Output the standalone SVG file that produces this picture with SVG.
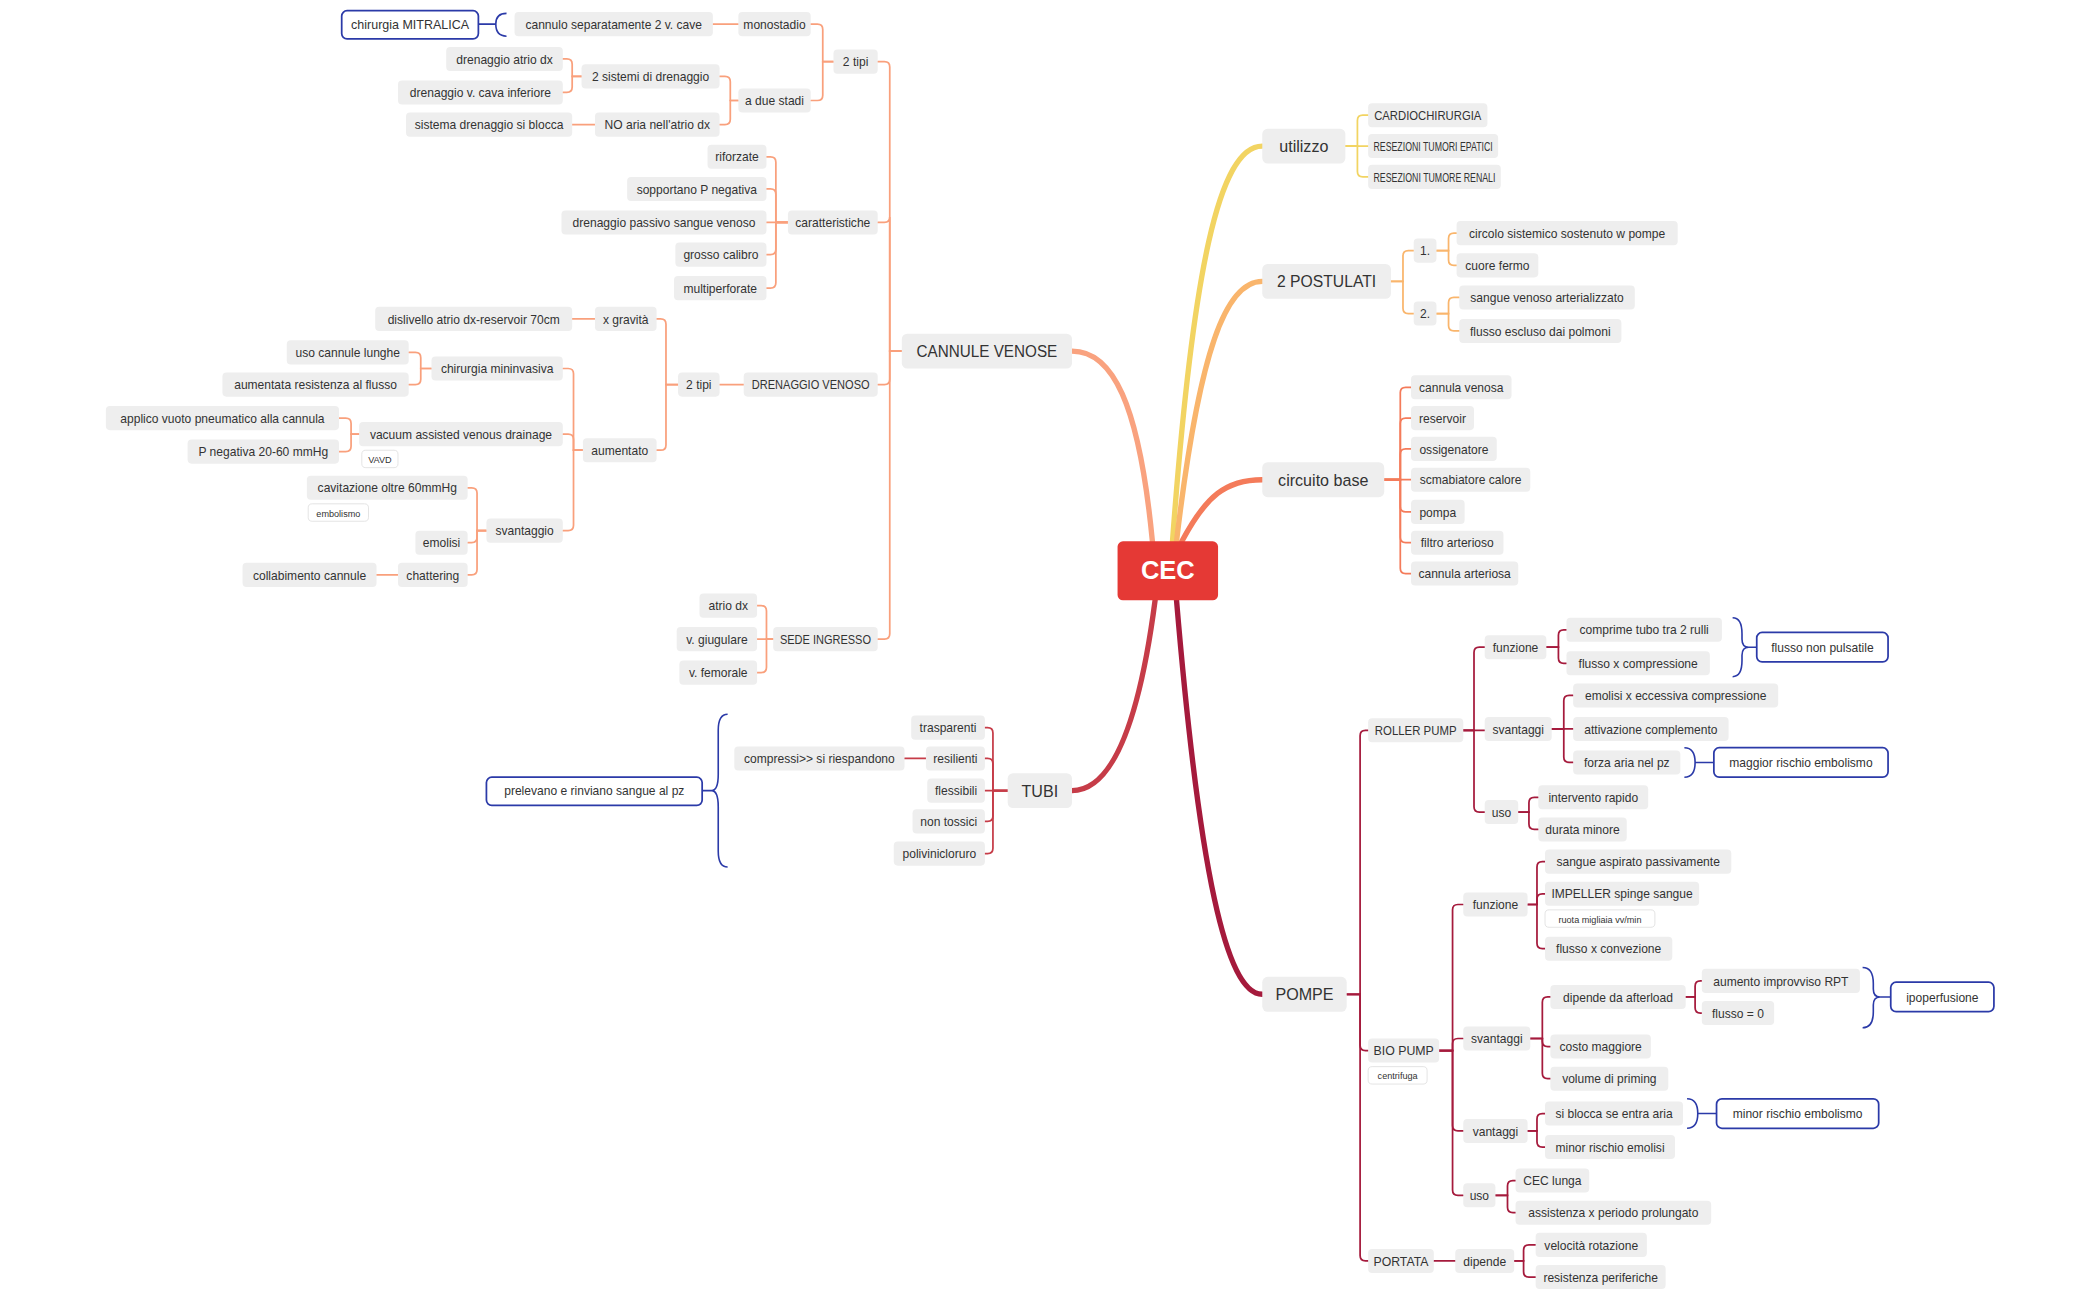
<svg xmlns="http://www.w3.org/2000/svg" width="2100" height="1301" viewBox="0 0 2100 1301">
<style>
.n rect{fill:#eeeeee}
.n text,.m text,.b text,.s text{font-family:"Liberation Sans",Arial,sans-serif;fill:#333;text-anchor:middle}
.n text{font-size:9px}
.m rect{fill:#eeeeee}
.m text{font-size:12px}
.b rect{fill:#fff;stroke:#2b3aa8;stroke-width:1.3}
.b text{font-size:9px}
.s rect{fill:#fff;stroke:#ddd;stroke-width:0.6}
.s text{font-size:6.8px}
.c path{fill:none;stroke-width:1.3;stroke-linecap:round}
.cv path{stroke:#f9a07c}
.ct path{stroke:#c63c48}
.cu path{stroke:#f2d462}
.cp path{stroke:#f9b56c}
.cc path{stroke:#f47b5a}
.cm path{stroke:#a51a3c}
.br path{fill:none;stroke:#2b3aa8;stroke-width:1.2}
.main path{fill:none;stroke-width:4;stroke-linecap:round}
</style>
<rect width="2100" height="1301" fill="#fff"/>
<g transform="scale(1.34)">
<g id="connectors">
<g class="main">
<path d="M860 404 C850 300 830 262 800 262" stroke="#f9a27f"/>
<path d="M875 404 C890 200 910 109 942 109" stroke="#f2d462"/>
<path d="M878 404 C895 260 915 210 942 210" stroke="#f9b56c"/>
<path d="M882 404 C900 370 915 358 942 358" stroke="#f47b5a"/>
<path d="M862 448 C850 540 830 590 800 590" stroke="#c63c48"/>
<path d="M878 448 C895 650 915 742 942 742" stroke="#a51a3c"/>
</g>
<g class="c cv">
<path d="M673 262 H664 V50 Q664 46 660 46 H655"/>
<path d="M673 262 H664 V162 Q664 166 660 166 H655"/>
<path d="M673 262 H664 V283 Q664 287 660 287 H655"/>
<path d="M673 262 H664 V473 Q664 477 660 477 H655"/>
<path d="M622 46 H614 V22 Q614 18 610 18 H605"/>
<path d="M622 46 H614 V71 Q614 75 610 75 H605"/>
<path d="M551 18 H532"/>
<path d="M551 75 H545 V61 Q545 57 541 57 H537"/>
<path d="M551 75 H545 V89 Q545 93 541 93 H537"/>
<path d="M434 57 H427 V48 Q427 44 423 44 H420"/>
<path d="M434 57 H427 V65 Q427 69 423 69 H420"/>
<path d="M444 93 H427"/>
<path d="M588 166 H579 V121 Q579 117 575 117 H572"/>
<path d="M588 166 H579 V145 Q579 141 575 141 H572"/>
<path d="M588 166 H572"/>
<path d="M588 166 H579 V186 Q579 190 575 190 H572"/>
<path d="M588 166 H579 V211 Q579 215 575 215 H572"/>
<path d="M555 287 H537"/>
<path d="M506 287 H497 V242 Q497 238 493 238 H490"/>
<path d="M506 287 H497 V332 Q497 336 493 336 H490"/>
<path d="M444 238 H427"/>
<path d="M435 336 H428 V279 Q428 275 424 275 H420"/>
<path d="M435 336 H428 V328 Q428 324 424 324 H420"/>
<path d="M435 336 H428 V392 Q428 396 424 396 H420"/>
<path d="M322 275 H314 V267 Q314 263 310 263 H305"/>
<path d="M322 275 H314 V283 Q314 287 310 287 H305"/>
<path d="M268 324 H262 V316 Q262 312 258 312 H253"/>
<path d="M268 324 H262 V333 Q262 337 258 337 H253"/>
<path d="M363 396 H356 V368 Q356 364 352 364 H349"/>
<path d="M363 396 H356 V401 Q356 405 352 405 H349"/>
<path d="M363 396 H356 V425 Q356 429 352 429 H349"/>
<path d="M297 429 H281"/>
<path d="M577 477 H572 V456 Q572 452 568 452 H565"/>
<path d="M577 477 H565"/>
<path d="M577 477 H572 V498 Q572 502 568 502 H565"/>
</g>
<g class="c ct">
<path d="M752 590 H741 V547 Q741 543 737 543 H735"/>
<path d="M752 590 H741 V570 Q741 566 737 566 H735"/>
<path d="M752 590 H735"/>
<path d="M752 590 H741 V609 Q741 613 737 613 H735"/>
<path d="M752 590 H741 V633 Q741 637 737 637 H735"/>
<path d="M691 566 H675"/>
</g>
<g class="c cu">
<path d="M1004 109 H1013 V90 Q1013 86 1017 86 H1021"/>
<path d="M1004 109 H1021"/>
<path d="M1004 109 H1013 V128 Q1013 132 1017 132 H1021"/>
</g>
<g class="c cp">
<path d="M1038 210 H1047 V191 Q1047 187 1051 187 H1055"/>
<path d="M1038 210 H1047 V230 Q1047 234 1051 234 H1055"/>
<path d="M1072 187 H1081 V178 Q1081 174 1085 174 H1087"/>
<path d="M1072 187 H1081 V194 Q1081 198 1085 198 H1087"/>
<path d="M1072 234 H1081 V226 Q1081 222 1085 222 H1089"/>
<path d="M1072 234 H1081 V243 Q1081 247 1085 247 H1089"/>
</g>
<g class="c cc">
<path d="M1033 358 H1045 V293 Q1045 289 1049 289 H1053"/>
<path d="M1033 358 H1045 V316 Q1045 312 1049 312 H1053"/>
<path d="M1033 358 H1045 V339 Q1045 335 1049 335 H1053"/>
<path d="M1033 358 H1053"/>
<path d="M1033 358 H1045 V378 Q1045 382 1049 382 H1053"/>
<path d="M1033 358 H1045 V401 Q1045 405 1049 405 H1053"/>
<path d="M1033 358 H1045 V424 Q1045 428 1049 428 H1053"/>
</g>
<g class="c cm">
<path d="M1005 742 H1015 V549 Q1015 545 1019 545 H1021"/>
<path d="M1005 742 H1015 V780 Q1015 784 1019 784 H1021"/>
<path d="M1005 742 H1015 V937 Q1015 941 1019 941 H1021"/>
<path d="M1092 545 H1100 V487 Q1100 483 1104 483 H1108"/>
<path d="M1092 545 H1108"/>
<path d="M1092 545 H1100 V602 Q1100 606 1104 606 H1108"/>
<path d="M1154 483 H1163 V474 Q1163 470 1167 470 H1169"/>
<path d="M1154 483 H1163 V491 Q1163 495 1167 495 H1169"/>
<path d="M1158 544 H1167 V523 Q1167 519 1171 519 H1174"/>
<path d="M1158 544 H1174"/>
<path d="M1158 544 H1167 V565 Q1167 569 1171 569 H1174"/>
<path d="M1133 606 H1141 V599 Q1141 595 1145 595 H1148"/>
<path d="M1133 606 H1141 V615 Q1141 619 1145 619 H1148"/>
<path d="M1074 784 H1084 V679 Q1084 675 1088 675 H1092"/>
<path d="M1074 784 H1084 V779 Q1084 775 1088 775 H1092"/>
<path d="M1074 784 H1084 V840 Q1084 844 1088 844 H1092"/>
<path d="M1074 784 H1084 V888 Q1084 892 1088 892 H1092"/>
<path d="M1140 675 H1147 V647 Q1147 643 1151 643 H1153"/>
<path d="M1140 675 H1147 V671 Q1147 667 1151 667 H1153"/>
<path d="M1140 675 H1147 V704 Q1147 708 1151 708 H1153"/>
<path d="M1142 775 H1151 V748 Q1151 744 1155 744 H1157"/>
<path d="M1142 775 H1151 V777 Q1151 781 1155 781 H1157"/>
<path d="M1142 775 H1151 V801 Q1151 805 1155 805 H1157"/>
<path d="M1258 744 H1265 V736 Q1265 732 1269 732 H1270"/>
<path d="M1258 744 H1265 V752 Q1265 756 1269 756 H1270"/>
<path d="M1140 844 H1147 V835 Q1147 831 1151 831 H1153"/>
<path d="M1140 844 H1147 V852 Q1147 856 1151 856 H1153"/>
<path d="M1116 892 H1125 V885 Q1125 881 1129 881 H1131"/>
<path d="M1116 892 H1125 V901 Q1125 905 1129 905 H1131"/>
<path d="M1070 941 H1086"/>
<path d="M1130 941 H1137 V933 Q1137 929 1141 929 H1146"/>
<path d="M1130 941 H1137 V949 Q1137 953 1141 953 H1146"/>
</g>
<g class="br">
<path d="M378 10 Q370 10 370 18 Q370 27 378 27 M370 18 H357"/>
<path d="M543 533 Q536 533 536 545 V578 Q536 590 531 590 Q536 590 536 602 V635 Q536 647 543 647 M531 590 H524"/>
<path d="M1293 461 Q1300 461 1300 473 V477 Q1300 483 1305 483 Q1300 483 1300 489 V493 Q1300 505 1293 505 M1305 483 H1311"/>
<path d="M1257 558 Q1265 558 1265 569 Q1265 580 1257 580 M1265 569 H1279"/>
<path d="M1390 722 Q1398 722 1398 734 V738 Q1398 744 1403 744 Q1398 744 1398 750 V755 Q1398 767 1390 767 M1403 744 H1411"/>
<path d="M1259 820 Q1267 820 1267 831 Q1267 842 1259 842 M1267 831 H1281"/>
</g>
</g>

<g id="cec"><rect x="834" y="404" width="75" height="44" rx="4" fill="#e53935"/><text x="871.5" y="432" font-family="Liberation Sans,Arial,sans-serif" font-size="19" font-weight="bold" fill="#fff" text-anchor="middle">CEC</text></g>

<g class="m" id="cannule"><rect x="673" y="249" width="127" height="26" rx="4"/><text x="736.5" y="266.5" textLength="105" lengthAdjust="spacingAndGlyphs">CANNULE VENOSE</text></g>
<g class="m" id="tubi"><rect x="752" y="577" width="48" height="26" rx="4"/><text x="776" y="594.5">TUBI</text></g>
<g class="m" id="utilizzo"><rect x="942" y="96" width="62" height="26" rx="4"/><text x="973" y="113.5">utilizzo</text></g>
<g class="m" id="postulati"><rect x="942" y="197" width="96" height="26" rx="4"/><text x="990" y="214.5" textLength="74" lengthAdjust="spacingAndGlyphs">2 POSTULATI</text></g>
<g class="m" id="circuito"><rect x="942" y="345" width="91" height="26" rx="4"/><text x="987.5" y="362.5">circuito base</text></g>
<g class="m" id="pompe"><rect x="942" y="729" width="63" height="26" rx="4"/><text x="973.5" y="746.5">POMPE</text></g>

<g class="n" id="n1"><rect x="622" y="37" width="33" height="18" rx="3"/><text x="638.5" y="49.5">2 tipi</text></g>
<g class="n" id="n2"><rect x="551" y="9" width="54" height="18" rx="3"/><text x="578" y="21.5">monostadio</text></g>
<g class="n" id="n3"><rect x="551" y="66" width="54" height="18" rx="3"/><text x="578" y="78.5">a due stadi</text></g>
<g class="n" id="n4"><rect x="384" y="9" width="148" height="18" rx="3"/><text x="458" y="21.5">cannulo separatamente 2 v. cave</text></g>
<g class="b" id="n5"><rect x="255" y="8" width="102" height="21" rx="4"/><text x="306" y="21.5" textLength="88" lengthAdjust="spacingAndGlyphs">chirurgia MITRALICA</text></g>
<g class="n" id="n6"><rect x="434" y="48" width="103" height="18" rx="3"/><text x="485.5" y="60.5">2 sistemi di drenaggio</text></g>
<g class="n" id="n7"><rect x="444" y="84" width="93" height="18" rx="3"/><text x="490.5" y="96.5">NO aria nell'atrio dx</text></g>
<g class="n" id="n8"><rect x="333" y="35" width="87" height="18" rx="3"/><text x="376.5" y="47.5">drenaggio atrio dx</text></g>
<g class="n" id="n9"><rect x="297" y="60" width="123" height="18" rx="3"/><text x="358.5" y="72.5">drenaggio v. cava inferiore</text></g>
<g class="n" id="n10"><rect x="303" y="84" width="124" height="18" rx="3"/><text x="365" y="96.5">sistema drenaggio si blocca</text></g>
<g class="n" id="n11"><rect x="588" y="157" width="67" height="18" rx="3"/><text x="621.5" y="169.5">caratteristiche</text></g>
<g class="n" id="n12"><rect x="528" y="108" width="44" height="18" rx="3"/><text x="550" y="120.5">riforzate</text></g>
<g class="n" id="n13"><rect x="468" y="132" width="104" height="18" rx="3"/><text x="520" y="144.5">sopportano P negativa</text></g>
<g class="n" id="n14"><rect x="419" y="157" width="153" height="18" rx="3"/><text x="495.5" y="169.5">drenaggio passivo sangue venoso</text></g>
<g class="n" id="n15"><rect x="504" y="181" width="68" height="18" rx="3"/><text x="538" y="193.5">grosso calibro</text></g>
<g class="n" id="n16"><rect x="503" y="206" width="69" height="18" rx="3"/><text x="537.5" y="218.5">multiperforate</text></g>
<g class="n" id="n17"><rect x="555" y="278" width="100" height="18" rx="3"/><text x="605" y="290.5" textLength="88" lengthAdjust="spacingAndGlyphs">DRENAGGIO VENOSO</text></g>
<g class="n" id="n18"><rect x="506" y="278" width="31" height="18" rx="3"/><text x="521.5" y="290.5">2 tipi</text></g>
<g class="n" id="n19"><rect x="444" y="229" width="46" height="18" rx="3"/><text x="467" y="241.5">x gravità</text></g>
<g class="n" id="n20"><rect x="280" y="229" width="147" height="18" rx="3"/><text x="353.5" y="241.5">dislivello atrio dx-reservoir 70cm</text></g>
<g class="n" id="n21"><rect x="435" y="327" width="55" height="18" rx="3"/><text x="462.5" y="339.5">aumentato</text></g>
<g class="n" id="n22"><rect x="322" y="266" width="98" height="18" rx="3"/><text x="371" y="278.5">chirurgia mininvasiva</text></g>
<g class="n" id="n23"><rect x="214" y="254" width="91" height="18" rx="3"/><text x="259.5" y="266.5">uso cannule lunghe</text></g>
<g class="n" id="n24"><rect x="166" y="278" width="139" height="18" rx="3"/><text x="235.5" y="290.5">aumentata resistenza al flusso</text></g>
<g class="n" id="n25"><rect x="268" y="315" width="152" height="18" rx="3"/><text x="344" y="327.5">vacuum assisted venous drainage</text></g>
<g class="s" id="n25s"><rect x="270" y="336" width="27" height="13" rx="3"/><text x="283.5" y="345.5">VAVD</text></g>
<g class="n" id="n26"><rect x="79" y="303" width="174" height="18" rx="3"/><text x="166" y="315.5">applico vuoto pneumatico alla cannula</text></g>
<g class="n" id="n27"><rect x="140" y="328" width="113" height="18" rx="3"/><text x="196.5" y="340.5">P negativa 20-60 mmHg</text></g>
<g class="n" id="n28"><rect x="363" y="387" width="57" height="18" rx="3"/><text x="391.5" y="399.5">svantaggio</text></g>
<g class="n" id="n29"><rect x="229" y="355" width="120" height="18" rx="3"/><text x="289" y="367.5">cavitazione oltre 60mmHg</text></g>
<g class="s" id="n29s"><rect x="230" y="376" width="45" height="13" rx="3"/><text x="252.5" y="385.5">embolismo</text></g>
<g class="n" id="n30"><rect x="310" y="396" width="39" height="18" rx="3"/><text x="329.5" y="408.5">emolisi</text></g>
<g class="n" id="n31"><rect x="297" y="420" width="52" height="18" rx="3"/><text x="323" y="432.5">chattering</text></g>
<g class="n" id="n32"><rect x="181" y="420" width="100" height="18" rx="3"/><text x="231" y="432.5">collabimento cannule</text></g>
<g class="n" id="n33"><rect x="577" y="468" width="78" height="18" rx="3"/><text x="616" y="480.5" textLength="68" lengthAdjust="spacingAndGlyphs">SEDE INGRESSO</text></g>
<g class="n" id="n34"><rect x="522" y="443" width="43" height="18" rx="3"/><text x="543.5" y="455.5">atrio dx</text></g>
<g class="n" id="n35"><rect x="505" y="468" width="60" height="18" rx="3"/><text x="535" y="480.5">v. giugulare</text></g>
<g class="n" id="n36"><rect x="507" y="493" width="58" height="18" rx="3"/><text x="536" y="505.5">v. femorale</text></g>

<g class="n" id="t1"><rect x="680" y="534" width="55" height="18" rx="3"/><text x="707.5" y="546.5">trasparenti</text></g>
<g class="n" id="t2"><rect x="691" y="557" width="44" height="18" rx="3"/><text x="713" y="569.5">resilienti</text></g>
<g class="n" id="t3"><rect x="692" y="581" width="43" height="18" rx="3"/><text x="713.5" y="593.5">flessibili</text></g>
<g class="n" id="t4"><rect x="681" y="604" width="54" height="18" rx="3"/><text x="708" y="616.5">non tossici</text></g>
<g class="n" id="t5"><rect x="667" y="628" width="68" height="18" rx="3"/><text x="701" y="640.5">polivinicloruro</text></g>
<g class="n" id="t6"><rect x="548" y="557" width="127" height="18" rx="3"/><text x="611.5" y="569.5">compressi&gt;&gt; si riespandono</text></g>
<g class="b" id="t7"><rect x="363" y="580" width="161" height="21" rx="4" stroke-width="2"/><text x="443.5" y="593.5">prelevano e rinviano sangue al pz</text></g>

<g class="n" id="u1"><rect x="1021" y="77" width="89" height="18" rx="3"/><text x="1065.5" y="89.5" textLength="80" lengthAdjust="spacingAndGlyphs">CARDIOCHIRURGIA</text></g>
<g class="n" id="u2"><rect x="1021" y="100" width="97" height="18" rx="3"/><text x="1069.5" y="112.5" textLength="89" lengthAdjust="spacingAndGlyphs">RESEZIONI TUMORI EPATICI</text></g>
<g class="n" id="u3"><rect x="1021" y="123" width="99" height="18" rx="3"/><text x="1070.5" y="135.5" textLength="91" lengthAdjust="spacingAndGlyphs">RESEZIONI TUMORE RENALI</text></g>

<g class="n" id="p1"><rect x="1055" y="178" width="17" height="18" rx="3"/><text x="1063.5" y="190.5">1.</text></g>
<g class="n" id="p2"><rect x="1055" y="225" width="17" height="18" rx="3"/><text x="1063.5" y="237.5">2.</text></g>
<g class="n" id="p3"><rect x="1087" y="165" width="165" height="18" rx="3"/><text x="1169.5" y="177.5">circolo sistemico sostenuto w pompe</text></g>
<g class="n" id="p4"><rect x="1087" y="189" width="61" height="18" rx="3"/><text x="1117.5" y="201.5">cuore fermo</text></g>
<g class="n" id="p5"><rect x="1089" y="213" width="131" height="18" rx="3"/><text x="1154.5" y="225.5">sangue venoso arterializzato</text></g>
<g class="n" id="p6"><rect x="1089" y="238" width="121" height="18" rx="3"/><text x="1149.5" y="250.5">flusso escluso dai polmoni</text></g>

<g class="n" id="c1"><rect x="1053" y="280" width="75" height="18" rx="3"/><text x="1090.5" y="292.5">cannula venosa</text></g>
<g class="n" id="c2"><rect x="1053" y="303" width="47" height="18" rx="3"/><text x="1076.5" y="315.5">reservoir</text></g>
<g class="n" id="c3"><rect x="1053" y="326" width="64" height="18" rx="3"/><text x="1085" y="338.5">ossigenatore</text></g>
<g class="n" id="c4"><rect x="1053" y="349" width="89" height="18" rx="3"/><text x="1097.5" y="361.5">scmabiatore calore</text></g>
<g class="n" id="c5"><rect x="1053" y="373" width="40" height="18" rx="3"/><text x="1073" y="385.5">pompa</text></g>
<g class="n" id="c6"><rect x="1053" y="396" width="69" height="18" rx="3"/><text x="1087.5" y="408.5">filtro arterioso</text></g>
<g class="n" id="c7"><rect x="1053" y="419" width="80" height="18" rx="3"/><text x="1093" y="431.5">cannula arteriosa</text></g>

<g class="n" id="r0"><rect x="1021" y="536" width="71" height="18" rx="3"/><text x="1056.5" y="548.5" textLength="61" lengthAdjust="spacingAndGlyphs">ROLLER PUMP</text></g>
<g class="n" id="r1"><rect x="1108" y="474" width="46" height="18" rx="3"/><text x="1131" y="486.5">funzione</text></g>
<g class="n" id="r2"><rect x="1108" y="535" width="50" height="18" rx="3"/><text x="1133" y="547.5">svantaggi</text></g>
<g class="n" id="r3"><rect x="1108" y="597" width="25" height="18" rx="3"/><text x="1120.5" y="609.5">uso</text></g>
<g class="n" id="r4"><rect x="1169" y="461" width="116" height="18" rx="3"/><text x="1227" y="473.5">comprime tubo tra 2 rulli</text></g>
<g class="n" id="r5"><rect x="1169" y="486" width="107" height="18" rx="3"/><text x="1222.5" y="498.5">flusso x compressione</text></g>
<g class="b" id="r6"><rect x="1311" y="472" width="98" height="22" rx="4"/><text x="1360" y="486.5">flusso non pulsatile</text></g>
<g class="n" id="r7"><rect x="1174" y="510" width="153" height="18" rx="3"/><text x="1250.5" y="522.5">emolisi x eccessiva compressione</text></g>
<g class="n" id="r8"><rect x="1174" y="535" width="116" height="18" rx="3"/><text x="1232" y="547.5">attivazione complemento</text></g>
<g class="n" id="r9"><rect x="1174" y="560" width="80" height="18" rx="3"/><text x="1214" y="572.5">forza aria nel pz</text></g>
<g class="b" id="r10"><rect x="1279" y="558" width="130" height="22" rx="4"/><text x="1344" y="572.5">maggior rischio embolismo</text></g>
<g class="n" id="r11"><rect x="1148" y="586" width="82" height="18" rx="3"/><text x="1189" y="598.5">intervento rapido</text></g>
<g class="n" id="r12"><rect x="1148" y="610" width="66" height="18" rx="3"/><text x="1181" y="622.5">durata minore</text></g>

<g class="n" id="b0"><rect x="1021" y="775" width="53" height="18" rx="3"/><text x="1047.5" y="787.5" textLength="45" lengthAdjust="spacingAndGlyphs">BIO PUMP</text></g>
<g class="s" id="b0s"><rect x="1021" y="796" width="44" height="13" rx="3"/><text x="1043" y="805.5">centrifuga</text></g>
<g class="n" id="b1"><rect x="1092" y="666" width="48" height="18" rx="3"/><text x="1116" y="678.5">funzione</text></g>
<g class="n" id="b2"><rect x="1092" y="766" width="50" height="18" rx="3"/><text x="1117" y="778.5">svantaggi</text></g>
<g class="n" id="b3"><rect x="1092" y="835" width="48" height="18" rx="3"/><text x="1116" y="847.5">vantaggi</text></g>
<g class="n" id="b4"><rect x="1092" y="883" width="24" height="18" rx="3"/><text x="1104" y="895.5">uso</text></g>
<g class="n" id="b5"><rect x="1153" y="634" width="139" height="18" rx="3"/><text x="1222.5" y="646.5">sangue aspirato passivamente</text></g>
<g class="n" id="b6"><rect x="1153" y="658" width="115" height="18" rx="3"/><text x="1210.5" y="670.5">IMPELLER spinge sangue</text></g>
<g class="s" id="b6s"><rect x="1153" y="679" width="82" height="13" rx="3"/><text x="1194" y="688.5">ruota migliaia vv/min</text></g>
<g class="n" id="b7"><rect x="1153" y="699" width="95" height="18" rx="3"/><text x="1200.5" y="711.5">flusso x convezione</text></g>
<g class="n" id="b8"><rect x="1157" y="735" width="101" height="18" rx="3"/><text x="1207.5" y="747.5">dipende da afterload</text></g>
<g class="n" id="b9"><rect x="1270" y="723" width="118" height="18" rx="3"/><text x="1329" y="735.5">aumento improvviso RPT</text></g>
<g class="n" id="b10"><rect x="1270" y="747" width="54" height="18" rx="3"/><text x="1297" y="759.5">flusso = 0</text></g>
<g class="b" id="b11"><rect x="1411" y="733" width="77" height="22" rx="4"/><text x="1449.5" y="747.5">ipoperfusione</text></g>
<g class="n" id="b12"><rect x="1157" y="772" width="75" height="18" rx="3"/><text x="1194.5" y="784.5">costo maggiore</text></g>
<g class="n" id="b13"><rect x="1157" y="796" width="88" height="18" rx="3"/><text x="1201" y="808.5">volume di priming</text></g>
<g class="n" id="b14"><rect x="1153" y="822" width="103" height="18" rx="3"/><text x="1204.5" y="834.5">si blocca se entra aria</text></g>
<g class="b" id="b15"><rect x="1281" y="820" width="121" height="22" rx="4"/><text x="1341.5" y="834.5">minor rischio embolismo</text></g>
<g class="n" id="b16"><rect x="1153" y="847" width="97" height="18" rx="3"/><text x="1201.5" y="859.5">minor rischio emolisi</text></g>
<g class="n" id="b17"><rect x="1131" y="872" width="55" height="18" rx="3"/><text x="1158.5" y="884.5">CEC lunga</text></g>
<g class="n" id="b18"><rect x="1131" y="896" width="146" height="18" rx="3"/><text x="1204" y="908.5">assistenza x periodo prolungato</text></g>
<g class="n" id="q0"><rect x="1021" y="932" width="49" height="18" rx="3"/><text x="1045.5" y="944.5" textLength="41" lengthAdjust="spacingAndGlyphs">PORTATA</text></g>
<g class="n" id="q1"><rect x="1086" y="932" width="44" height="18" rx="3"/><text x="1108" y="944.5">dipende</text></g>
<g class="n" id="q2"><rect x="1146" y="920" width="83" height="18" rx="3"/><text x="1187.5" y="932.5">velocità rotazione</text></g>
<g class="n" id="q3"><rect x="1146" y="944" width="97" height="18" rx="3"/><text x="1194.5" y="956.5">resistenza periferiche</text></g>
</g>
</svg>
